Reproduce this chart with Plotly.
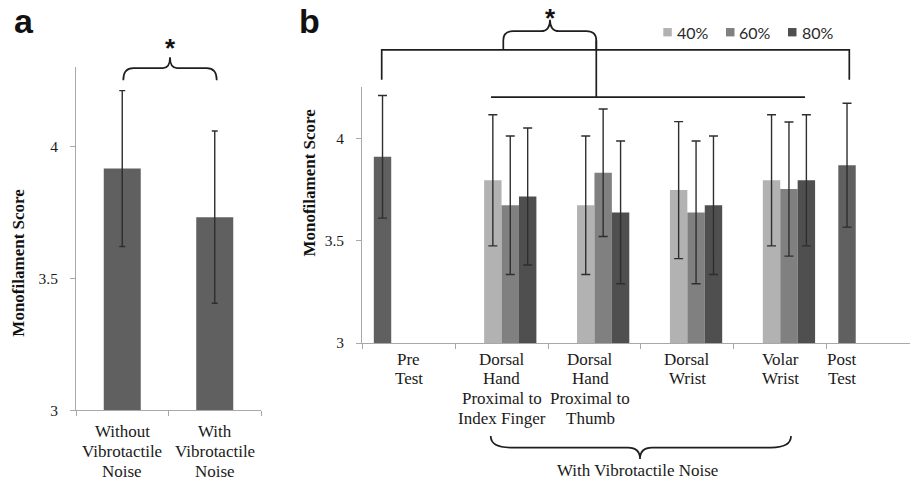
import plotly.graph_objects as go

# ---------------- data ----------------
a_categories = ["Without Vibrotactile Noise", "With Vibrotactile Noise"]
a_label_lines = [["Without", "Vibrotactile", "Noise"], ["With", "Vibrotactile", "Noise"]]
a_means = [3.915, 3.731]
a_sd = [0.295, 0.326]

b_categories = ["Pre Test", "Dorsal Hand Proximal to Index Finger", "Dorsal Hand Proximal to Thumb",
                "Dorsal Wrist", "Volar Wrist", "Post Test"]
b_label_lines = [["Pre", "Test"],
                 ["Dorsal", "Hand", "Proximal to", "Index Finger"],
                 ["Dorsal", "Hand", "Proximal to", "Thumb"],
                 ["Dorsal", "Wrist"],
                 ["Volar", "Wrist"],
                 ["Post", "Test"]]
prepost_means = [3.911, None, None, None, None, 3.870]
prepost_sd = [0.300, None, None, None, None, 0.303]
p40_means = [None, 3.796, 3.674, 3.748, 3.796, None]
p40_sd = [None, 0.321, 0.339, 0.335, 0.321, None]
p60_means = [None, 3.674, 3.833, 3.639, 3.753, None]
p60_sd = [None, 0.339, 0.312, 0.349, 0.328, None]
p80_means = [None, 3.717, 3.639, 3.674, 3.796, None]
p80_sd = [None, 0.335, 0.349, 0.339, 0.321, None]
legend_names = ["40%", "60%", "80%"]

y_ticks = [3, 3.5, 4]

# ---------------- styling helpers ----------------
W, H = 910, 490
def PX(x): return x / W
def PY(y): return 1 - y / H
def P(x, y): return f"{PX(x):.5f},{PY(y):.5f}"

dark = "#606060"
c40, c60, c80 = "#b2b2b2", "#808080", "#4f4f4f"
axis_col = "#a8a8a8"
ink = "#1e1e1e"
serif = "Liberation Serif"

fig = go.Figure()

fig.add_trace(go.Bar(x=list(range(len(a_categories))), y=a_means, width=0.4, offset=-0.2,
                     marker=dict(color=dark, line=dict(width=0)),
                     error_y=dict(type="data", array=a_sd, color="#2e2e2e", thickness=1.4, width=3),
                     xaxis="x", yaxis="y", showlegend=False))

xb = list(range(len(b_categories)))
for vals, sds, col, name in [(prepost_means, prepost_sd, dark, "Pre/Post"),
                             (p40_means, p40_sd, c40, legend_names[0]),
                             (p60_means, p60_sd, c60, legend_names[1]),
                             (p80_means, p80_sd, c80, legend_names[2])]:
    fig.add_trace(go.Bar(x=xb, y=vals, name=name,
                         marker=dict(color=col, line=dict(width=0)),
                         error_y=dict(type="data", array=sds, color="#2e2e2e", thickness=1.4, width=4.5),
                         xaxis="x2", yaxis="y2", showlegend=False))

axis_common = dict(showline=True, linecolor=axis_col, linewidth=1, ticks="outside", ticklen=5,
                   tickcolor=axis_col, tickwidth=1, showgrid=False, zeroline=False)

fig.update_layout(
    width=W, height=H, margin=dict(l=0, r=0, t=0, b=0),
    paper_bgcolor="white", plot_bgcolor="white",
    barmode="group", bargap=0.25, bargroupgap=0,
    xaxis=dict(domain=[PX(76), PX(261)], range=[-0.5, 1.5], tickvals=[-0.5, 0.5, 1.5],
               ticktext=["", "", ""], anchor="y", **axis_common),
    yaxis=dict(domain=[PY(417), PY(68)], range=[3, 4.3], tickvals=y_ticks,
               ticktext=[str(t) for t in y_ticks], anchor="x", ticklabelstandoff=9,
               tickfont=dict(family=serif, size=15.5, color="#1a1a1a"), **axis_common),
    xaxis2=dict(domain=[PX(362.2), 1.0], range=[-0.5, -0.5 + (910 - 362.2) / 92.9],
                tickvals=[i - 0.5 for i in range(len(b_categories) + 1)],
                ticktext=[""] * (len(b_categories) + 1), anchor="y2", **axis_common),
    yaxis2=dict(domain=[PY(348.7), PY(348.7 - 1.25 * 207.8)], range=[3, 4.25], tickvals=y_ticks,
                ticktext=[str(t) for t in y_ticks], anchor="x2", ticklabelstandoff=9,
                tickfont=dict(family=serif, size=15.5, color="#1a1a1a"), **axis_common),
)

ann = []
# category labels panel a
a_line_y = [439, 459, 479]
for i, lines in enumerate(a_label_lines):
    for j, t in enumerate(lines):
        ann.append(dict(x=i, xref="x", y=PY(a_line_y[j]), yref="paper", text=t, showarrow=False,
                        xanchor="center", yanchor="middle",
                        font=dict(family=serif, size=17, color="#1a1a1a")))
# category labels panel b
b_line_y = [365, 385, 405, 425]
b_shift = [0, 0, -4, 0, 0, -31]
for i, lines in enumerate(b_label_lines):
    for j, t in enumerate(lines):
        ann.append(dict(x=i, xref="x2", xshift=b_shift[i], y=PY(b_line_y[j]), yref="paper", text=t,
                        showarrow=False, xanchor="center", yanchor="middle",
                        font=dict(family=serif, size=17, color="#1a1a1a")))
# axis titles
for (x, y) in [(19, 267), (309.6, 186)]:
    ann.append(dict(x=PX(x), y=PY(y), xref="paper", yref="paper", text="<b>Monofilament Score</b>",
                    textangle=-90, showarrow=False, xanchor="center", yanchor="middle",
                    font=dict(family=serif, size=17, color="#111")))
# panel letters
for (x, t) in [(23.5, "a"), (309, "b")]:
    ann.append(dict(x=PX(x), y=PY(21.2), xref="paper", yref="paper", text=f"<b>{t}</b>", showarrow=False,
                    xanchor="center", yanchor="middle",
                    font=dict(family="Liberation Sans", size=34, color="#111")))
# asterisks
for (x, y) in [(170, 49.3), (550, 18.7)]:
    ann.append(dict(x=PX(x), y=PY(y), xref="paper", yref="paper", text="<b>*</b>", showarrow=False,
                    xanchor="center", yanchor="middle",
                    font=dict(family="Liberation Sans", size=26, color="#111")))
# bottom group label
ann.append(dict(x=PX(637), y=PY(478.3), xref="paper", yref="paper", text="With Vibrotactile Noise",
                showarrow=False, xanchor="center", yanchor="middle",
                font=dict(family=serif, size=17, color="#1a1a1a")))
# legend texts
for (x, t) in [(675, legend_names[0]), (737, legend_names[1]), (799.7, legend_names[2])]:
    ann.append(dict(x=PX(x), y=PY(33), xref="paper", yref="paper", text=t, showarrow=False,
                    xanchor="left", yanchor="middle",
                    font=dict(family="Lato", size=16, color="#2a2a2a")))

shapes = []
for (x0, col) in [(663.3, c40), (726, c60), (788, c80)]:
    shapes.append(dict(type="rect", xref="paper", yref="paper", x0=PX(x0), x1=PX(x0 + 8.5),
                       y0=PY(37), y1=PY(28.5), fillcolor=col, line=dict(width=0)))

def brace(x0, x1, ye, ym, yp, xm, re, rv, rc):
    d = 1 if ym > ye else -1
    return (f"M {P(x0, ye)} L {P(x0, ym - d * rv)} Q {P(x0, ym)} {P(x0 + re, ym)} "
            f"L {P(xm - rc, ym)} Q {P(xm, ym)} {P(xm, yp)} Q {P(xm, ym)} {P(xm + rc, ym)} "
            f"L {P(x1 - re, ym)} Q {P(x1, ym)} {P(x1, ym - d * rv)} L {P(x1, ye)}")

line_style = dict(color=ink, width=1.7)
for path in [
    brace(123.3, 216.7, 81.7, 69.3, 58.3, 170, 10, 12, 7),
    brace(503.3, 596.3, 50.7, 31.7, 20, 550, 10, 9.5, 9),
    brace(490.7, 791, 443.3, 455, 466.7, 640, 20, 11.7, 12),
    f"M {P(381.7, 81)} L {P(381.7, 50.7)} L {P(849.3, 50.7)} L {P(849.3, 81)}",
    f"M {P(491, 98.7)} L {P(805, 98.7)}",
    f"M {P(596.3, 98.7)} L {P(596.3, 41)}",
]:
    shapes.append(dict(type="path", xref="paper", yref="paper", path=path, line=line_style))

fig.update_layout(annotations=ann, shapes=shapes)
fig.write_html("out.html", config={"displayModeBar": False},
               post_script="document.body.style.margin='0';")
